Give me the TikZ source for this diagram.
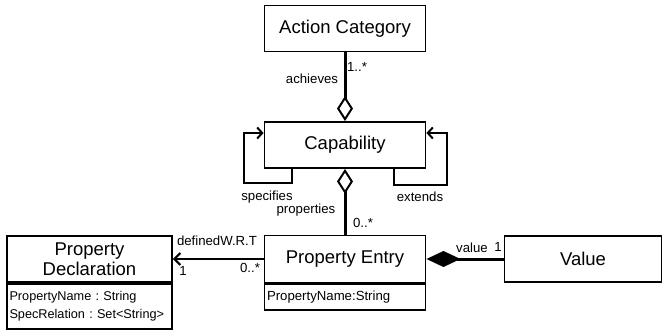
\documentclass[tikz,border=0pt]{standalone}
\usepackage{fontspec}
\setmainfont{Liberation Sans}
\usetikzlibrary{arrows.meta}
\frenchspacing

\begin{document}
\begin{tikzpicture}[x=1pt,y=-1pt]
  \tikzstyle{cls}=[draw,line width=1.9pt,minimum width=161pt,minimum height=46pt,inner sep=0pt,font=\fontsize{18.5}{20}\selectfont]
  \tikzstyle{attr}=[draw,line width=1.9pt,inner xsep=2.5pt,inner ysep=0pt,align=left,font=\fontsize{12.7}{18}\selectfont]
  \tikzstyle{lbl}=[inner sep=0pt,font=\fontsize{13.2}{15}\selectfont]
  \tikzstyle{assoc}=[line width=3pt]
  \tikzstyle{selfloop}=[line width=2pt,-{Straight Barb[length=5pt,width=11pt,line width=2pt]}]
  \useasboundingbox (0,0) rectangle (665,332);
  % classes
  \node[cls] (cat) at (345,28.5) {Action Category};
  \node[cls] (cap) at (345,145) {Capability};
  \node[cls,minimum height=47pt] (entry) at (345,259) {Property Entry};
  \node[attr,minimum height=26pt,text width=156pt,anchor=north,font=\fontsize{13.2}{18}\selectfont] (entryattr) at (entry.south) {PropertyName:String};
  \node[cls,minimum width=165pt,align=center] (decl) at (89.5,259) {Property\\Declaration};
  \node[attr,minimum height=45pt,text width=160pt,anchor=north] (declattr) at (decl.south) {PropertyName : String\\SpecRelation : Set<String>};
  \node[cls,minimum width=157pt] (value) at (583,259) {Value};
  % associations
  \draw[assoc,-{Diamond[open,length=25pt,width=16pt,line width=2pt]}] (cat) -- (cap);
  \draw[assoc,{Diamond[open,length=25pt,width=16pt,line width=2pt]}-] (cap) -- (entry);
  \draw[assoc,{Diamond[length=34pt,width=16pt]}-] (entry) -- (value);
  \draw[line width=2.6pt,-{Straight Barb[length=6pt,width=12pt,line width=2pt]}] (entry) -- (decl);
  \draw[selfloop] ([xshift=28pt]cap.south west) -- ++(0,14) -| ([xshift=-20pt,yshift=12pt]cap.west) -- ([yshift=12pt]cap.west);
  \draw[selfloop] ([xshift=-32pt]cap.south east) -- ++(0,16) -| ([xshift=21pt,yshift=12pt]cap.east) -- ([yshift=12pt]cap.east);
  % role names and multiplicities
  \foreach \x/\y/\name/\txt in {312/79/achieves/achieves, 357/67/catmult/1..*, 267/197/specifies/specifies,
    420/197/extends/extends, 306/210/properties/properties, 363/223/entrymult/0..*,
    217/241/defined/definedW.R.T, 183/271/declmult/1, 250/268/entrymultb/0..*,
    472/248/valuename/value, 498/247/valuemult/1} {
    \node[lbl] (\name) at (\x,\y) {\txt};
  }
\end{tikzpicture}
\end{document}
